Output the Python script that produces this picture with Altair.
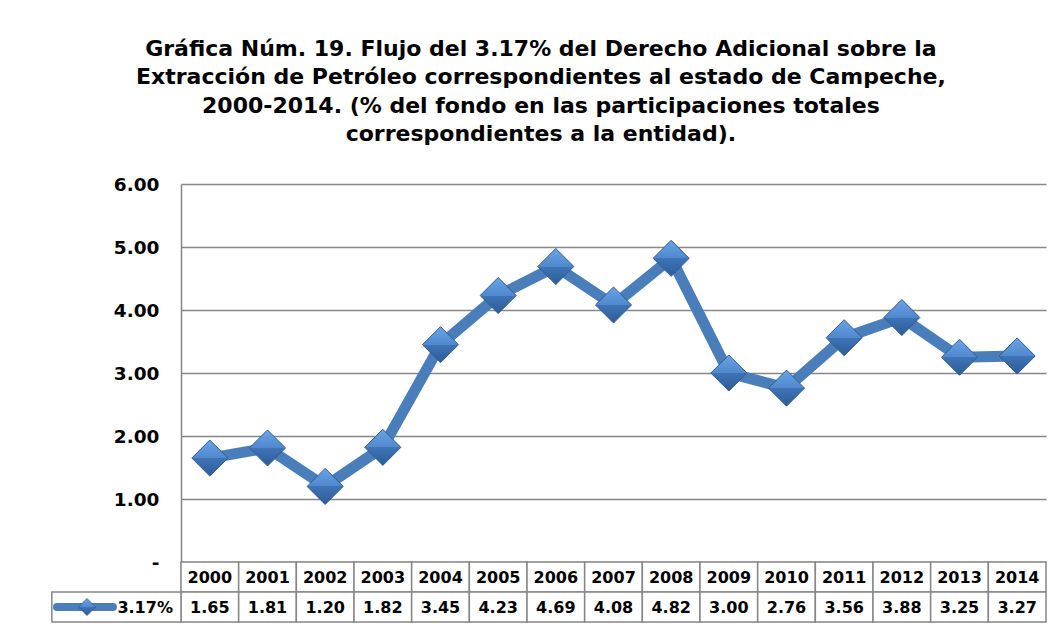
import altair as alt
import pandas as pd

# ---- data ----
years = ["2000", "2001", "2002", "2003", "2004", "2005", "2006", "2007",
         "2008", "2009", "2010", "2011", "2012", "2013", "2014"]
values = [1.65, 1.81, 1.20, 1.82, 3.45, 4.23, 4.69, 4.08,
          4.82, 3.00, 2.76, 3.56, 3.88, 3.25, 3.27]
series_name = "3.17%"
y_ticks = [0, 1, 2, 3, 4, 5, 6]
title_lines = [
    "Gráfica Núm. 19. Flujo del 3.17% del Derecho Adicional sobre la",
    "Extracción de Petróleo correspondientes al estado de Campeche,",
    "2000-2014. (% del fondo en las participaciones totales",
    "correspondientes a la entidad).",
]

# ---- layout constants (table rows below the plot, in y units) ----
ROW = 0.476           # height of one table row in y-units
LEG_LEFT = -2.74      # left edge of legend cell in x-index units
FONT = "DejaVu Sans"
GRID = "#868686"
BLUE = "#4A7EBB"

df = pd.DataFrame({
    "i": list(range(len(years))),
    "year": years,
    "value": values,
    "label": [f"{v:.2f}" for v in values],
})

# table cells built from the arrays
cells = []
for k, (yr, lab) in enumerate(zip(years, [f"{v:.2f}" for v in values])):
    cells.append({"x0": k - 0.5, "x1": k + 0.5, "y0": 0, "y1": -ROW,
                  "xm": k, "ym": -ROW / 2, "text": yr})
    cells.append({"x0": k - 0.5, "x1": k + 0.5, "y0": -ROW, "y1": -2 * ROW,
                  "xm": k, "ym": -1.5 * ROW, "text": lab})
cells_df = pd.DataFrame(cells)
legend_cell = pd.DataFrame([{"x0": LEG_LEFT, "x1": -0.5, "y0": -ROW, "y1": -2 * ROW,
                             "xm": -0.64, "ym": -1.5 * ROW, "text": series_name,
                             "lx0": -2.65, "lx1": -1.68, "dx": -2.13}])

xscale = alt.Scale(domain=[-0.5, len(years) - 0.5], nice=False, zero=False)
yscale = alt.Scale(domain=[-2 * ROW, 6], nice=False, zero=False)

X = lambda f: alt.X(f, type="quantitative", scale=xscale, axis=None)

yaxis = alt.Axis(values=y_ticks,
                 labelExpr="datum.value == 0 ? '-\u00a0\u00a0' : format(datum.value, '.2f')",
                 grid=True, gridColor=GRID, gridWidth=1.5, domain=True, domainColor=GRID,
                 domainWidth=1.5, ticks=False, labelFontSize=18.5, labelFontWeight="bold",
                 labelColor="black", labelPadding=22, title=None)

cell_rects = alt.Chart(cells_df).mark_rect(fill="white", stroke=GRID, strokeWidth=1.5, clip=False).encode(
    x=X("x0"), x2="x1",
    y=alt.Y("y0:Q", scale=yscale, axis=yaxis), y2="y1",
)
cell_text = alt.Chart(cells_df).mark_text(fontSize=16, fontWeight="bold", color="black",
                                          align="center", baseline="middle", dy=1).encode(
    x=X("xm"), y=alt.Y("ym:Q", scale=yscale), text="text:N",
)

leg_rect = alt.Chart(legend_cell).mark_rect(fill="white", stroke=GRID, strokeWidth=1.5, clip=False).encode(
    x=X("x0"), x2="x1", y=alt.Y("y0:Q", scale=yscale), y2="y1",
)
leg_line = alt.Chart(legend_cell).mark_rule(color=BLUE, strokeWidth=8, strokeCap="round", clip=False).encode(
    x=X("lx0"), x2="lx1", y=alt.Y("ym:Q", scale=yscale),
)
diamond_fill = alt.Gradient(
    gradient="linear", x1=0, x2=0, y1=0, y2=1,
    stops=[alt.GradientStop(color="#6aa3e6", offset=0),
           alt.GradientStop(color="#4f88cc", offset=0.5),
           alt.GradientStop(color="#3f74b6", offset=0.5),
           alt.GradientStop(color="#2d5c98", offset=1)],
)
leg_diamond = alt.Chart(legend_cell).mark_point(shape="diamond", filled=True, size=290, fill=diamond_fill,
                                                 stroke="#2f5c91", strokeWidth=0.8, opacity=1, clip=False).encode(
    x=X("dx"), y=alt.Y("ym:Q", scale=yscale),
)
leg_text = alt.Chart(legend_cell).mark_text(fontSize=16, fontWeight="bold", color="black",
                                            align="right", baseline="middle", dy=1, clip=False).encode(
    x=X("xm"), y=alt.Y("ym:Q", scale=yscale), text="text:N",
)

line = alt.Chart(df).mark_line(color=BLUE, strokeWidth=11, strokeJoin="round").encode(
    x=X("i"), y=alt.Y("value:Q", scale=yscale),
)
points = alt.Chart(df).mark_point(shape="diamond", filled=True, size=1300, fill=diamond_fill,
                                  stroke="#2f5c91", strokeWidth=1, opacity=1).encode(
    x=X("i"), y=alt.Y("value:Q", scale=yscale),
)

chart = alt.layer(
    cell_rects, cell_text, leg_rect, leg_line, leg_diamond, leg_text, line, points
).properties(
    width=865, height=438,
    padding={"left": 43, "top": 29, "right": 5, "bottom": 5},
    title=alt.TitleParams(text=title_lines, fontSize=22, fontWeight="bold", font=FONT,
                          anchor="middle", frame="bounds", lineHeight=28.5, offset=29,
                          dx=-8, color="black"),
).configure(font=FONT).configure_view(stroke=None)

chart.save("out.html", embed_options={"renderer": "svg", "actions": False})
